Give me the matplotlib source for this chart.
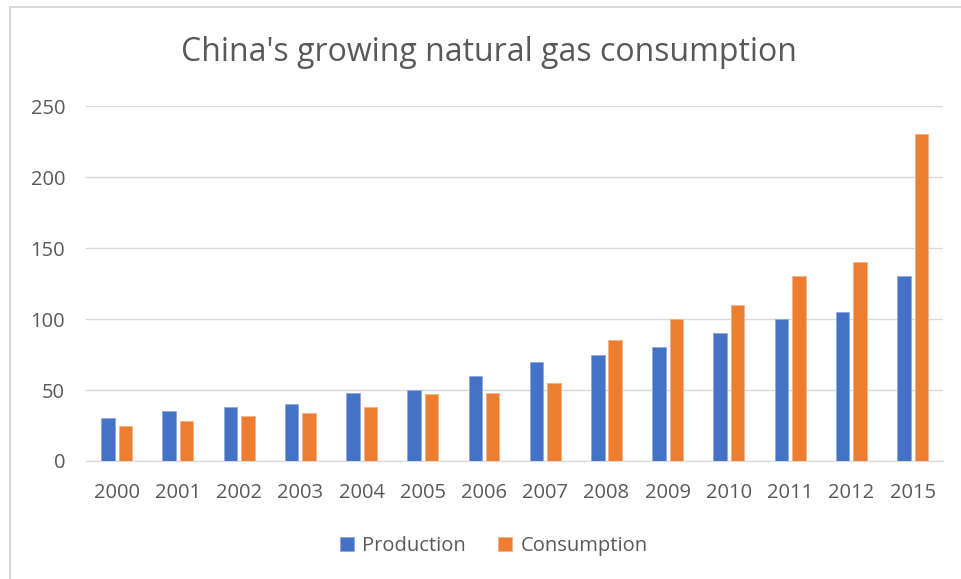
import matplotlib.pyplot as plt
import numpy as np
from matplotlib.patches import Rectangle

years = ["2000", "2001", "2002", "2003", "2004", "2005", "2006",
         "2007", "2008", "2009", "2010", "2011", "2012", "2015"]
production = [30, 35, 38, 40, 48, 50, 60, 70, 75, 80, 90, 100, 105, 130]
consumption = [25, 28, 32, 34, 38, 47, 48, 55, 85, 100, 110, 130, 140, 230]

BLUE = "#4472C4"
ORANGE = "#ED7D31"
TEXT = "#595959"
GRID = "#D9D9D9"

plt.rcParams["font.family"] = ["Open Sans", "DejaVu Sans"]

fig = plt.figure(figsize=(9.61, 5.79), dpi=100)
ax = fig.add_axes([0.0895, 0.2038, 0.892, 0.6131])

x = np.arange(len(years))
width = 0.22
offset = 0.142
ax.bar(x - offset, production, width, color=BLUE, edgecolor="#8FAADC",
       linewidth=0.6, label="Production", zorder=3)
ax.bar(x + offset, consumption, width, color=ORANGE, edgecolor="#F4B183",
       linewidth=0.6, label="Consumption", zorder=3)

ax.set_xlim(-0.5, len(years) - 0.5)
ax.set_ylim(0, 250)
ax.set_yticks(range(0, 251, 50))
ax.set_xticks(x)
ax.set_xticklabels(years)
ax.grid(axis="y", color=GRID, linewidth=1, zorder=0)
for side in ["top", "right", "left"]:
    ax.spines[side].set_visible(False)
ax.spines["bottom"].set_color(GRID)
ax.tick_params(axis="both", length=0, labelsize=14.5, colors=TEXT)
ax.tick_params(axis="x", pad=16)
ax.tick_params(axis="y", pad=15)

fig.text(0.509, 0.91, "China's growing natural gas consumption",
         ha="center", va="center", fontsize=23, color=TEXT)

fig.legend(loc="center", bbox_to_anchor=(0.514, 0.057), ncol=2, frameon=False,
           fontsize=14.5, labelcolor=TEXT, handlelength=0.7, handleheight=0.7,
           handletextpad=0.4, columnspacing=1.6)

fig.patches.append(Rectangle((10 / 961, -0.1), 1.2, 1.1 - 7 / 579,
                             transform=fig.transFigure, fill=False,
                             edgecolor=GRID, linewidth=1.5))

fig.savefig("out.png", dpi=100)
